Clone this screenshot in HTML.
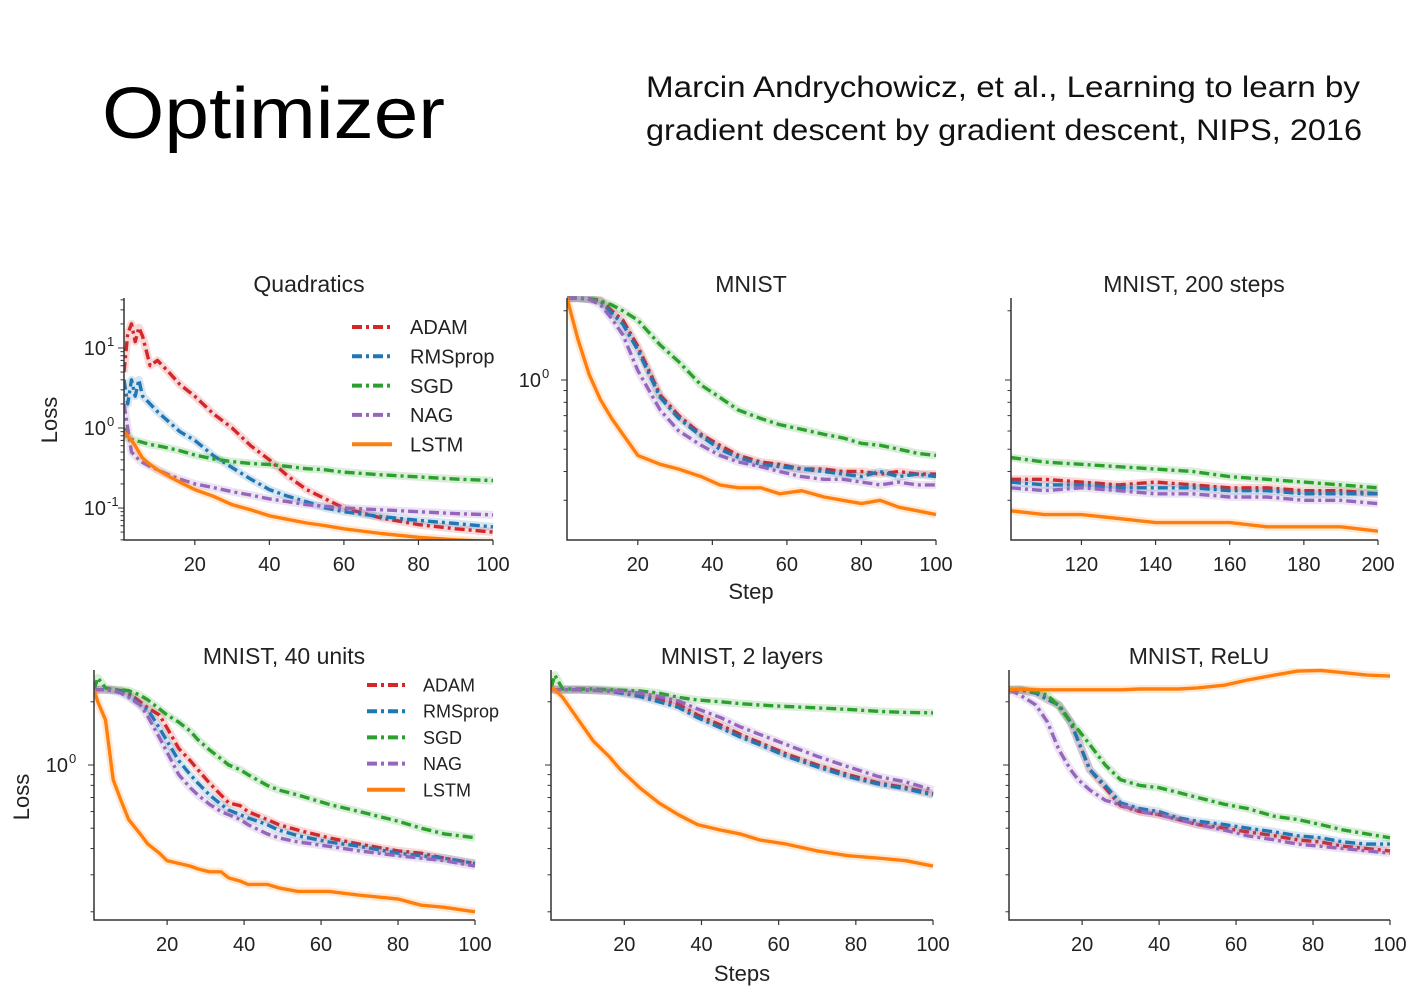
<!DOCTYPE html>
<html><head><meta charset="utf-8"><style>
html,body{margin:0;padding:0;background:#fff;}
svg{display:block;font-family:"Liberation Sans",sans-serif;}
</style></head><body>
<svg id="root" width="1421" height="988" viewBox="0 0 1421 988" xmlns="http://www.w3.org/2000/svg">
<text x="102" y="138" font-size="72" fill="#000" textLength="343" lengthAdjust="spacingAndGlyphs">Optimizer</text>
<text x="646" y="97" font-size="30" fill="#111" textLength="714" lengthAdjust="spacingAndGlyphs">Marcin Andrychowicz, et al., Learning to learn by</text>
<text x="646" y="140" font-size="30" fill="#111" textLength="716" lengthAdjust="spacingAndGlyphs">gradient descent by gradient descent, NIPS, 2016</text>
<g id="charts"></g>
</svg>
<script>
// ---------- data ----------
const quadSteps=[1,2,3,4,5,6,8,10,13,16,20,25,30,35,40,45,50,55,60,70,80,90,100];
const quadAdam=[5,15,20,12,18,14,6,7,5,3.5,2.5,1.5,1.0,0.6,0.4,0.25,0.17,0.13,0.1,0.075,0.062,0.055,0.05];
const quadRms=[4,2,4,2.5,4,2.5,2,1.6,1.2,0.9,0.7,0.45,0.32,0.23,0.17,0.14,0.12,0.1,0.09,0.078,0.07,0.064,0.058];
const quadSgd=[1.0,0.75,0.72,0.7,0.68,0.66,0.62,0.6,0.56,0.52,0.46,0.41,0.38,0.36,0.35,0.33,0.31,0.3,0.28,0.26,0.245,0.23,0.22];
const quadNag=[2,1,0.5,0.45,0.4,0.37,0.33,0.3,0.26,0.23,0.2,0.18,0.16,0.145,0.13,0.12,0.11,0.105,0.1,0.095,0.09,0.085,0.082];
const quadLstm=[0.9,0.8,0.7,0.6,0.5,0.42,0.35,0.3,0.25,0.21,0.17,0.14,0.11,0.095,0.08,0.072,0.065,0.06,0.055,0.048,0.043,0.04,0.038];

const mnistSteps=[1,4,7,10,13,16,20,26,31,37,42,47,53,58,64,70,75,80,85,90,95,100];
const mnistLstm=[2.27,1.49,1.05,0.82,0.68,0.58,0.47,0.43,0.41,0.38,0.35,0.34,0.34,0.32,0.33,0.31,0.30,0.29,0.30,0.28,0.27,0.26];
const mnistSgd=[2.27,2.27,2.25,2.2,2.12,2.0,1.82,1.42,1.2,0.95,0.84,0.74,0.68,0.64,0.61,0.58,0.56,0.53,0.52,0.5,0.48,0.47];
const mnistAdam=[2.27,2.27,2.25,2.23,2.0,1.82,1.4,0.86,0.7,0.58,0.52,0.47,0.44,0.43,0.41,0.41,0.40,0.40,0.39,0.40,0.39,0.39];
const mnistRms=[2.27,2.27,2.25,2.2,1.95,1.75,1.35,0.84,0.68,0.57,0.5,0.46,0.43,0.42,0.41,0.40,0.39,0.38,0.40,0.38,0.39,0.38];
const mnistNag=[2.27,2.27,2.24,2.12,1.85,1.57,1.1,0.74,0.6,0.52,0.47,0.44,0.42,0.4,0.38,0.37,0.37,0.36,0.35,0.36,0.35,0.35];

const m200Steps=[101,110,120,130,140,150,160,170,180,190,200];
const m200Sgd=[0.46,0.44,0.43,0.42,0.41,0.40,0.38,0.37,0.36,0.35,0.34];
const m200Adam=[0.37,0.37,0.36,0.35,0.36,0.35,0.34,0.34,0.33,0.33,0.32];
const m200Rms=[0.36,0.35,0.35,0.34,0.34,0.34,0.33,0.33,0.32,0.32,0.32];
const m200Nag=[0.34,0.33,0.34,0.33,0.32,0.32,0.31,0.31,0.30,0.30,0.29];
const m200Lstm=[0.27,0.26,0.26,0.25,0.24,0.24,0.24,0.23,0.23,0.23,0.22];

const u40Steps=[1,2,4,6,8,10,13,15,18,20,23,26,28,31,34,36,39,41,46,49,54,62,70,80,86,92,100];
const u40Lstm=[2.28,2.0,1.64,0.85,0.68,0.55,0.47,0.42,0.38,0.35,0.34,0.33,0.32,0.31,0.31,0.29,0.28,0.27,0.27,0.26,0.25,0.25,0.24,0.23,0.215,0.21,0.20];
const u40Sgd=[2.28,2.6,2.33,2.28,2.28,2.26,2.15,2.04,1.85,1.73,1.6,1.45,1.32,1.18,1.07,1.0,0.95,0.9,0.8,0.76,0.72,0.65,0.60,0.54,0.50,0.47,0.45];
const u40Adam=[2.28,2.28,2.28,2.28,2.26,2.2,2.0,1.87,1.73,1.5,1.2,1.05,0.95,0.82,0.72,0.66,0.64,0.6,0.55,0.52,0.49,0.45,0.42,0.39,0.38,0.36,0.34];
const u40Rms=[2.28,2.28,2.28,2.27,2.24,2.15,1.93,1.83,1.5,1.3,1.05,0.9,0.82,0.72,0.65,0.61,0.58,0.56,0.52,0.49,0.46,0.43,0.41,0.38,0.37,0.36,0.34];
const u40Nag=[2.28,2.28,2.28,2.26,2.2,2.1,1.93,1.7,1.35,1.15,0.9,0.78,0.72,0.65,0.6,0.58,0.55,0.52,0.47,0.45,0.43,0.41,0.39,0.37,0.36,0.35,0.33];

const l2Steps=[1,2,4,8,12,16,19,24,29,34,39,45,50,55,62,70,78,86,93,100];
const l2Lstm=[2.33,2.28,2.1,1.65,1.3,1.1,0.95,0.78,0.66,0.58,0.52,0.49,0.47,0.44,0.42,0.39,0.37,0.36,0.35,0.33];
const l2Sgd=[2.33,2.68,2.3,2.3,2.3,2.28,2.27,2.25,2.2,2.1,2.04,2.0,1.96,1.93,1.9,1.87,1.84,1.8,1.78,1.77];
const l2Adam=[2.3,2.28,2.28,2.28,2.27,2.25,2.22,2.15,2.05,1.95,1.73,1.55,1.4,1.28,1.13,1.0,0.9,0.82,0.78,0.73];
const l2Rms=[2.3,2.28,2.28,2.28,2.27,2.25,2.2,2.12,2.0,1.88,1.68,1.5,1.36,1.25,1.1,0.98,0.88,0.81,0.77,0.72];
const l2Nag=[2.3,2.28,2.28,2.28,2.27,2.26,2.24,2.2,2.12,2.02,1.85,1.68,1.52,1.4,1.25,1.1,0.98,0.88,0.83,0.76];

const reluSteps=[1,4,8,11,14,17,19,22,26,30,35,40,45,50,57,63,70,76,82,88,94,100];
const reluLstm=[2.28,2.3,2.28,2.28,2.28,2.28,2.28,2.28,2.28,2.28,2.3,2.3,2.3,2.33,2.4,2.54,2.68,2.8,2.82,2.75,2.68,2.65];
const reluSgd=[2.28,2.28,2.25,2.15,1.9,1.6,1.47,1.25,1.0,0.85,0.8,0.78,0.74,0.70,0.65,0.62,0.57,0.55,0.52,0.49,0.47,0.45];
const reluAdam=[2.28,2.28,2.2,2.05,1.93,1.6,1.3,0.95,0.78,0.64,0.6,0.58,0.55,0.52,0.5,0.48,0.46,0.44,0.43,0.41,0.40,0.39];
const reluRms=[2.28,2.28,2.2,2.05,1.93,1.6,1.3,0.95,0.8,0.66,0.62,0.6,0.56,0.54,0.52,0.5,0.48,0.46,0.45,0.43,0.42,0.42];
const reluNag=[2.28,2.15,1.93,1.6,1.18,0.95,0.85,0.76,0.68,0.645,0.6,0.58,0.55,0.52,0.49,0.46,0.44,0.42,0.41,0.40,0.39,0.38];

const seriesNames=['ADAM','RMSprop','SGD','NAG','LSTM'];
const xTicks100=[20,40,60,80,100];
const xTicks200=[120,140,160,180,200];

// ---------- rendering ----------
const NS='http://www.w3.org/2000/svg';
const root=document.getElementById('charts');
const COL={ADAM:'#d62728',RMSprop:'#1f77b4',SGD:'#2ca02c',NAG:'#9467bd',LSTM:'#ff7f0e'};
function mk(tag,attrs,parent){const e=document.createElementNS(NS,tag);for(const k in attrs)e.setAttribute(k,attrs[k]);(parent||root).appendChild(e);return e;}

const panels=[
 {id:'quadratics',title:'Quadratics',tx:309,ty:292,x0:124,x1:493,y0:298,y1:540,s0:1,s1:100,ref:428,dec:80,xt:xTicks100,steps:quadSteps,data:[quadAdam,quadRms,quadSgd,quadNag,quadLstm],ylab:[[1,'10','1'],[0,'10','0'],[-1,'10','-1']],ylx:118,legend:{x:352,y:327,dy:29.3,fs:20,lw:40},ytitle:{x:57,y:420}},
 {id:'mnist',title:'MNIST',tx:751,ty:292,x0:567,x1:936,y0:298,y1:540,s0:1,s1:100,ref:380,dec:230,xt:xTicks100,steps:mnistSteps,data:[mnistAdam,mnistRms,mnistSgd,mnistNag,mnistLstm],ylab:[[0,'10','0']],ylx:553,xtitle:{t:'Step',x:751,y:599}},
 {id:'mnist-200',title:'MNIST, 200 steps',tx:1194,ty:292,x0:1011,x1:1378,y0:298,y1:540,s0:101,s1:200,ref:380,dec:230,xt:xTicks200,steps:m200Steps,data:[m200Adam,m200Rms,m200Sgd,m200Nag,m200Lstm],ylab:[]},
 {id:'mnist-40-units',title:'MNIST, 40 units',tx:284,ty:664,x0:94,x1:475,y0:670,y1:920,s0:1,s1:100,ref:765,dec:210,xt:xTicks100,steps:u40Steps,data:[u40Adam,u40Rms,u40Sgd,u40Nag,u40Lstm],ylab:[[0,'10','0']],ylx:80,legend:{x:367,y:685,dy:26.2,fs:18,lw:38},ytitle:{x:29,y:797}},
 {id:'mnist-2-layers',title:'MNIST, 2 layers',tx:742,ty:664,x0:551,x1:933,y0:670,y1:920,s0:1,s1:100,ref:765,dec:210,xt:xTicks100,steps:l2Steps,data:[l2Adam,l2Rms,l2Sgd,l2Nag,l2Lstm],ylab:[],xtitle:{t:'Steps',x:742,y:981}},
 {id:'mnist-relu',title:'MNIST, ReLU',tx:1199,ty:664,x0:1009,x1:1390,y0:670,y1:920,s0:1,s1:100,ref:765,dec:210,xt:xTicks100,steps:reluSteps,data:[reluAdam,reluRms,reluSgd,reluNag,reluLstm],ylab:[]}
];

panels.forEach(p=>{
 const g=mk('g',{});
 
 
 const xs=s=>p.x0+(s-p.s0)/(p.s1-p.s0)*(p.x1-p.x0);
 const ys=v=>p.ref-Math.log10(v)*p.dec;
 const clip=mk('clipPath',{id:'clip-'+p.id},g);
 mk('rect',{x:p.x0,y:p.y0-2,width:p.x1-p.x0+4,height:p.y1-p.y0+2},clip);
 const t=mk('text',{x:p.tx,y:p.ty,'font-size':23,'text-anchor':'middle',fill:'#222'},g);
 t.textContent=p.title;
 
 
 const sg=mk('g',{'clip-path':'url(#clip-'+p.id+')'},g);
 p.data.forEach((arr,i)=>{
  const name=seriesNames[i];
  const d=arr.map((v,j)=>(j?'L':'M')+xs(p.steps[j]).toFixed(1)+','+ys(v).toFixed(1)).join('');
  const band=mk('path',{d:d,fill:'none',stroke:COL[name],'stroke-width':8,'stroke-opacity':0.18,'stroke-linejoin':'round'},sg);
  
  
  const ln=mk('path',{d:d,fill:'none',stroke:COL[name],'stroke-width':3.4,'stroke-linejoin':'round','stroke-dasharray':name==='LSTM'?'none':'10,4,3,4'},sg);
  
  
 });
 const ax=mk('path',{d:`M${p.x0},${p.y0}V${p.y1}H${p.x1}`,fill:'none',stroke:'#333','stroke-width':1.5},g);
 
 
 p.xt.forEach(v=>{
  const x=xs(v);
  mk('line',{x1:x,x2:x,y1:p.y1,y2:p.y1+5,stroke:'#333','stroke-width':1.2},g);
  const tl=mk('text',{x:x,y:p.y1+31,'font-size':20,'text-anchor':'middle',fill:'#222'},g);
  tl.textContent=v;
  
  
 });
 for(let e=-3;e<=2;e++){for(let m=1;m<10;m++){const v=m*Math.pow(10,e);const y=ys(v);if(y<p.y0||y>p.y1)continue;
  mk('line',{x1:p.x0-(m===1?6:3.5),x2:p.x0,y1:y,y2:y,stroke:'#333','stroke-width':1},g);}}
 p.ylab.forEach(l=>{
  const y=ys(Math.pow(10,l[0]));
  const tl=mk('text',{x:p.ylx-12,y:y+7,'font-size':20,'text-anchor':'end',fill:'#222'},g);
  tl.textContent=l[1];
  
  
  const sp=mk('text',{x:p.ylx-11,y:y-2,'font-size':13,fill:'#222'},g);
  sp.textContent=l[2];
 });
 if(p.xtitle){const xt=mk('text',{x:p.xtitle.x,y:p.xtitle.y,'font-size':22,'text-anchor':'middle',fill:'#222'},g);xt.textContent=p.xtitle.t;
  
  }
 if(p.ytitle){const yt=mk('text',{x:p.ytitle.x,y:p.ytitle.y,'font-size':22,'text-anchor':'middle',fill:'#222',transform:`rotate(-90 ${p.ytitle.x} ${p.ytitle.y})`},g);yt.textContent='Loss';
  
  }
 if(p.legend){const L=p.legend;const lg=mk('g',{},g);
  
  
  seriesNames.forEach((n,i)=>{const y=L.y+i*L.dy;
   mk('line',{x1:L.x,x2:L.x+L.lw,y1:y,y2:y,stroke:COL[n],'stroke-width':4,'stroke-dasharray':n==='LSTM'?'none':'10,4,3,4'},lg);
   const tx=mk('text',{x:L.x+L.lw+18,y:y+L.fs*0.36,'font-size':L.fs,fill:'#222'},lg);tx.textContent=n;
   
   
  });}
});
</script>
</body></html>
